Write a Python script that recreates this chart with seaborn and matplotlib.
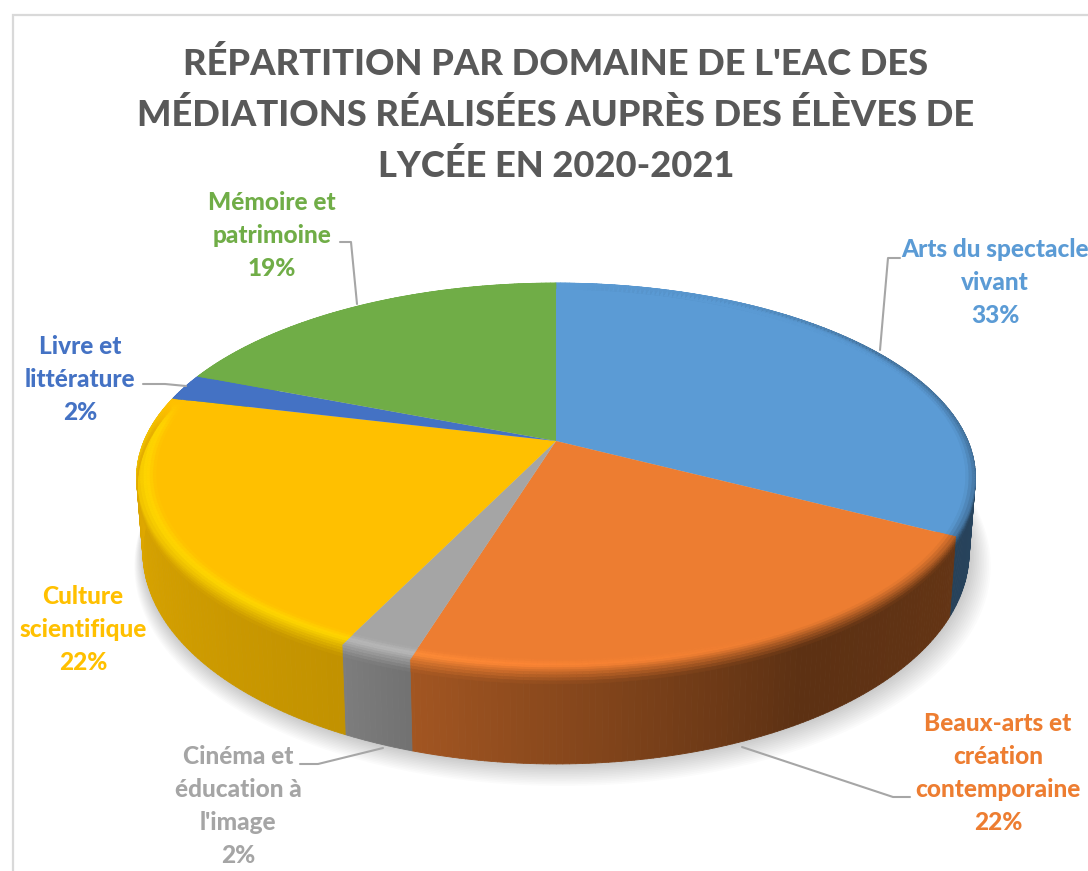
import numpy as np
import matplotlib
matplotlib.use("Agg")
import matplotlib.pyplot as plt
from matplotlib.collections import PolyCollection
from matplotlib.transforms import Transform
import seaborn as sns

title = "RÉPARTITION PAR DOMAINE DE L'EAC DES\nMÉDIATIONS RÉALISÉES AUPRÈS DES ÉLÈVES DE\nLYCÉE EN 2020-2021"
categories = ["Arts du spectacle\nvivant", "Beaux-arts et\ncréation\ncontemporaine",
              "Cinéma et\néducation à\nl'image", "Culture\nscientifique",
              "Livre et\nlittérature", "Mémoire et\npatrimoine"]
values = [32.7, 22.0, 2.4, 21.7, 2.2, 19.0]
percents = ["33%", "22%", "2%", "22%", "2%", "19%"]
colors = ["#5B9BD5", "#ED7D31", "#A5A5A5", "#FFC000", "#4472C4", "#70AD47"]

label_xy = [(995, 238), (998, 712), (238, 745), (83, 585), (80, 335), (272, 191)]
leaders = [[(880, 350), (888, 258), (900, 258)],
           [(742, 747), (893, 797), (910, 797)],
           [(383, 748), (318, 764), (300, 764)],
           [(143, 384), (165, 384), (186, 386)],
           [(340, 242), (351, 242), (357, 304)]]

W, H_ = 1088, 871
CX, CY, A, B, K = 556.0, 441.0, 187.6, 412.0, 0.1877

sns.set_theme(style="white")
plt.rcParams["font.family"] = ["Lato", "DejaVu Sans"]
palette = sns.color_palette(colors)


def top_xy(u, v):
    w = 1 + K * v
    return CX + B * u / w, CY - A * v / w


def bottom_xy(u, v):
    x, y = top_xy(u, v)
    return CX + (x - CX) * 0.985, y + 70 - 22 * v


class Perspective(Transform):
    input_dims = output_dims = 2
    is_separable = False
    has_inverse = False

    def transform_non_affine(self, xy):
        xy = np.asarray(xy, float)
        x, y = top_xy(xy[:, 0], xy[:, 1])
        return np.column_stack([x, y])


def shade(t):
    return np.interp(t, [0, 30, 60, 90, 150, 196, 206, 280, 290, 360],
                     [1, .9, .5, .45, .39, .68, .76, .9, 1, 1])


def rim_shade(t):
    return np.interp(t, [0, 30, 60, 90, 150, 196, 206, 275, 283, 360],
                     [1, .9, .5, .45, .39, .68, .76, .9, 1, 1])


def gain(t):
    return np.interp(t, [0, 150, 180, 196, 275, 283, 360], [0, 0, .06, .12, .12, 0, 0])


def uv(t, r=1.0):
    a = np.radians(t)
    return r * np.sin(a), r * np.cos(a)


fig = plt.figure(figsize=(W / 100, H_ / 100), dpi=100)
ax = fig.add_axes([0, 0, 1, 1])

wedges, _ = ax.pie(values, colors=palette, startangle=90, counterclock=False,
                   radius=1, center=(0, 0), wedgeprops=dict(linewidth=0, zorder=5))
persp = Perspective()
for w in wedges:
    w.set_transform(persp + ax.transData)
ax.set_aspect("auto")
ax.set_xlim(0, W)
ax.set_ylim(H_, 0)
ax.axis("off")

# soft shadow under the pie
tt = np.linspace(0, 360, 361)
for i in range(14):
    u, v = uv(tt)
    x, y = bottom_xy(u, v)
    s = 1 + 0.0028 * i
    ax.fill(CX + (x - CX) * s + 0.5 * i, 480 + (y - 480) * s + 0.9 * i,
            color="#000000", alpha=0.016, lw=0, zorder=1)

# side wall and bevel, strip by strip, from the same values
edges = 360 * np.concatenate([[0], np.cumsum(values)]) / np.sum(values)
for i, c in enumerate(palette):
    c = np.array(c)
    t0, t1 = edges[i], edges[i + 1]
    ts = np.arange(t0, t1, 0.75)
    ts = np.append(ts, t1)
    wall, wall_c, rim, rim_c = [], [], [], []
    bands_r = np.linspace(.955, 1, 7)
    bands_h = np.linspace(0, .13, 5)
    for a, b in zip(ts[:-1], ts[1:]):
        m = (a + b) / 2
        wc = np.clip(c * shade(m), 0, 1)
        rc = np.clip(c * rim_shade(m), 0, 1)
        hi = np.clip(c * (1 + gain(m)), 0, 1)
        ua, va = uv(a); ub, vb = uv(b)
        xa, ya = top_xy(ua, va); xb, yb = top_xy(ub, vb)
        xa2, ya2 = bottom_xy(ua, va); xb2, yb2 = bottom_xy(ub, vb)
        wall.append([(xa, ya), (xb, yb), (xb2, yb2), (xa2, ya2)])
        wall_c.append(wc)
        n_r = len(bands_r) - 1
        for j in range(n_r):
            s = (j + .5) / n_r * .6
            col = c + (hi - c) * s / .3 if s < .3 else hi + (rc - hi) * (s - .3) / .7
            p = [top_xy(*uv(a, bands_r[j])), top_xy(*uv(b, bands_r[j])),
                 top_xy(*uv(b, bands_r[j + 1])), top_xy(*uv(a, bands_r[j + 1]))]
            rim.append(p); rim_c.append(np.clip(col, 0, 1))
        n_h = len(bands_h) - 1
        for j in range(n_h):
            s = .6 + .4 * (j + .5) / n_h
            col = hi + (rc - hi) * (s - .3) / .7
            h0, h1 = bands_h[j], bands_h[j + 1]
            p = [(xa + (xa2 - xa) * h0, ya + (ya2 - ya) * h0),
                 (xb + (xb2 - xb) * h0, yb + (yb2 - yb) * h0),
                 (xb + (xb2 - xb) * h1, yb + (yb2 - yb) * h1),
                 (xa + (xa2 - xa) * h1, ya + (ya2 - ya) * h1)]
            if m < 283:
                rim.append(p); rim_c.append(np.clip(col, 0, 1))
    ax.add_collection(PolyCollection(wall, facecolors=wall_c, edgecolors=wall_c,
                                     linewidths=.6, zorder=3), autolim=False)
    ax.add_collection(PolyCollection(rim, facecolors=rim_c, edgecolors=rim_c,
                                     linewidths=.4, zorder=6), autolim=False)

# chart frame
ax.plot([13, 13, W], [H_, 15, 15], color="#D9D9D9", lw=1.6, zorder=2,
        solid_joinstyle="miter", clip_on=False)

ax.text(556, 115, title, ha="center", va="center", fontsize=26.1, fontweight=900,
        color="#595959", linespacing=1.62, zorder=8)

for cat, pct, col, (x, y) in zip(categories, percents, colors, label_xy):
    ax.text(x, y, f"{cat}\n{pct}", ha="center", va="top", fontsize=17.6,
            fontweight=900, color=col, linespacing=1.53, zorder=8)

for pts in leaders:
    xs, ys = zip(*pts)
    ax.plot(xs, ys, color="#A6A6A6", lw=1.5, zorder=7)

fig.savefig("out.png", dpi=100)
